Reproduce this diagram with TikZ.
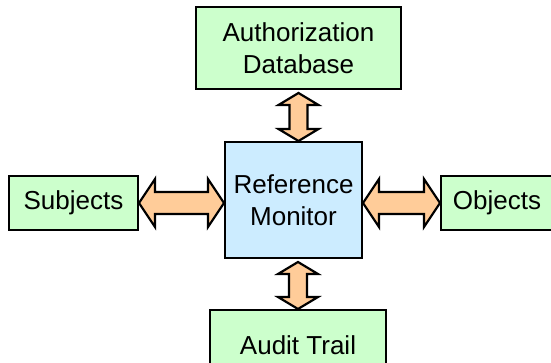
\documentclass[tikz,border=0pt]{standalone}
\usepackage{fontspec}
\setmainfont{Liberation Sans}
\usetikzlibrary{calc}

\definecolor{boxgreen}{RGB}{204,255,204}
\definecolor{boxblue}{RGB}{204,236,255}
\definecolor{arrowpeach}{RGB}{255,204,153}

\tikzset{every picture/.style={line width=0.75pt}}
\tikzset{
  blockbox/.style={draw=black, line width=2pt, fill=boxgreen, inner sep=0pt, align=center,
    font=\fontsize{26}{32}\selectfont},
  fatarrow/.style n args={3}{draw=black, line width=2.2pt, fill=arrowpeach, line join=miter,
    to path={(\tikztostart)
      -- ($(\tikztostart)!#1!(\tikztotarget)!#2!90:(\tikztotarget)$)
      -- ($(\tikztostart)!#1!(\tikztotarget)!#3!90:(\tikztotarget)$)
      -- ($(\tikztotarget)!#1!(\tikztostart)!#3!-90:(\tikztostart)$)
      -- ($(\tikztotarget)!#1!(\tikztostart)!#2!-90:(\tikztostart)$)
      -- (\tikztotarget)
      -- ($(\tikztotarget)!#1!(\tikztostart)!#2!90:(\tikztostart)$)
      -- ($(\tikztotarget)!#1!(\tikztostart)!#3!90:(\tikztostart)$)
      -- ($(\tikztostart)!#1!(\tikztotarget)!#3!-90:(\tikztotarget)$)
      -- ($(\tikztostart)!#1!(\tikztotarget)!#2!-90:(\tikztotarget)$)
      -- cycle}},
}

\begin{document}
\begin{tikzpicture}[x=1pt,y=1pt,yscale=-1,xscale=1]
\useasboundingbox (0,0) rectangle (551,362);

%Shape: Rectangle
\node [blockbox, minimum width=205, minimum height=82] (authdb) at (298.5,48) {Authorization\\Database};
%Shape: Rectangle
\node [blockbox, fill=boxblue, minimum width=137, minimum height=116] (refmon) at (293.5,200) {Reference\\Monitor};
%Shape: Rectangle
\node [blockbox, minimum width=129, minimum height=54] (subj) at (73.5,203) {Subjects};
%Shape: Rectangle
\node [blockbox, minimum width=112, minimum height=54] (obj) at (497,203) {Objects};
%Shape: Rectangle
\node [blockbox, minimum width=176, minimum height=71] (audit) at (298,345.5) {Audit Trail};

%Block Arrows
\draw [fatarrow={12pt}{20pt}{9pt}] ($(authdb.south)+(0,3)$) to (authdb.south |- refmon.north);
\draw [fatarrow={12pt}{20pt}{9pt}] ($(audit.north |- refmon.south)+(0,3)$) to (audit.north);
\draw [fatarrow={16pt}{24pt}{11pt}] (subj.east) to (subj.east -| refmon.west);
\draw [fatarrow={16pt}{24pt}{11pt}] (refmon.east |- obj.west) to (obj.west);

\end{tikzpicture}
\end{document}
